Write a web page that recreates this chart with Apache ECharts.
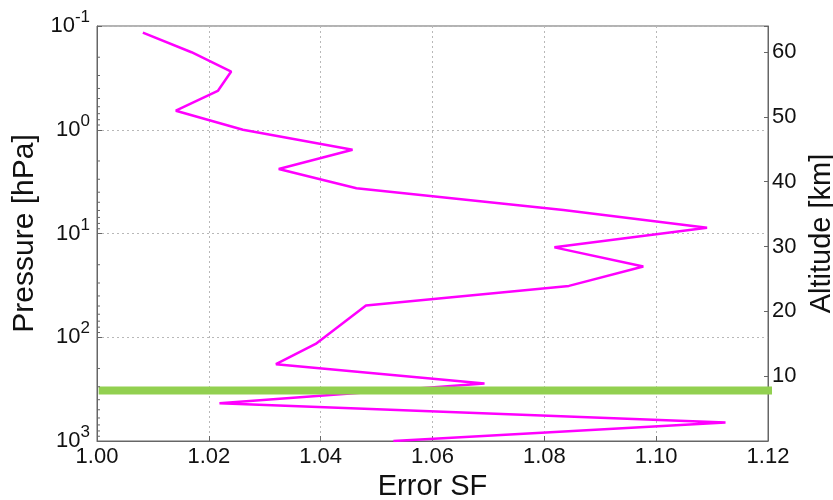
<!DOCTYPE html>
<html>
<head>
<meta charset="utf-8">
<script src="https://cdn.jsdelivr.net/npm/echarts@6/dist/echarts.min.js"></script>
<style>html,body{margin:0;padding:0;background:#fff;}#c{width:833px;height:500px;}</style>
</head>
<body>
<div id="c"></div>
<script>
// ---- data ----
var errorSF = [1.0082, 1.0169, 1.0240, 1.0216, 1.0141, 1.0261, 1.0457, 1.0325, 1.0464, 1.0834, 1.1091,
               1.0818, 1.0977, 1.0844, 1.0481, 1.0391, 1.0320, 1.0693, 1.0219, 1.1124, 1.0530];
var pressure = [0.116, 0.179, 0.275, 0.423, 0.655, 1.00, 1.56, 2.39, 3.66, 5.93, 8.78,
                13.6, 20.8, 32.0, 49.5, 116, 182, 279, 432, 664, 1000];
var levelPressure = 326;            // green reference level [hPa]
var levelExtent = [1.0003, 1.1210]; // Error SF extent of green level line
var xTicks = [1.00, 1.02, 1.04, 1.06, 1.08, 1.10, 1.12];
var altitudeTicks = [10, 20, 30, 40, 50, 60];
var pressureMinorTicks = [];
[-1, 0, 1, 2].forEach(function (k) {
  [2, 3, 4, 5, 6, 7, 8, 9].forEach(function (m) { pressureMinorTicks.push(m * Math.pow(10, k)); });
});

var FONT = 'Liberation Sans, Arial, sans-serif';
var AX = '#666';
var chart = echarts.init(document.getElementById('c'));
chart.setOption({
  animation: false,
  backgroundColor: '#fff',
  grid: { left: 97, right: 65, top: 26, bottom: 59, show: true, borderColor: AX, borderWidth: 1,
          backgroundColor: 'transparent', containLabel: false, outerBoundsMode: 'none' },
  xAxis: {
    type: 'value', min: 1.00, max: 1.12, interval: 0.02,
    name: 'Error SF', nameLocation: 'middle', nameGap: 28,
    nameTextStyle: { fontFamily: FONT, fontSize: 29, color: '#111' },
    axisLine: { lineStyle: { color: AX } },
    axisTick: { inside: true, length: 5, lineStyle: { color: AX } },
    axisLabel: { fontFamily: FONT, fontSize: 22, color: '#111', margin: 5,
      formatter: function (v) { return v.toFixed(2); } },
    splitLine: { show: true, lineStyle: { color: '#b8b8b8', type: [2, 3], width: 1 } }
  },
  yAxis: [{
    type: 'log', logBase: 10, min: 0.1, max: 1000, inverse: true, position: 'left',
    name: 'Pressure [hPa]', nameLocation: 'middle', nameGap: 55,
    nameTextStyle: { fontFamily: FONT, fontSize: 30, color: '#111' },
    axisLine: { lineStyle: { color: AX } },
    axisTick: { inside: true, length: 5, lineStyle: { color: AX } },
    axisLabel: {
      margin: 7,
      formatter: function (v) {
        var e = Math.round(Math.log10(v));
        return '{b|10}{s|' + e + '}';
      },
      rich: {
        b: { fontFamily: FONT, fontSize: 22, color: '#111', lineHeight: 34 },
        s: { fontFamily: FONT, fontSize: 17, color: '#111', lineHeight: 17, verticalAlign: 'top' }
      }
    },
    splitLine: { show: true, lineStyle: { color: '#b8b8b8', type: [2, 3], width: 1 } }
  }, {
    type: 'value', min: 0, max: 64, interval: 10, position: 'right',
    name: 'Altitude [km]', nameLocation: 'middle', nameGap: 35,
    nameTextStyle: { fontFamily: FONT, fontSize: 29, color: '#111' },
    axisLine: { show: true, lineStyle: { color: AX } },
    axisTick: { inside: true, length: 4, lineStyle: { color: AX } },
    axisLabel: { fontFamily: FONT, fontSize: 22, color: '#111', margin: 4,
      formatter: function (v) { return altitudeTicks.indexOf(v) >= 0 ? String(v) : ''; } },
    splitLine: { show: false }
  }],
  series: [{
    type: 'custom', xAxisIndex: 0, yAxisIndex: 0, silent: true, clip: false, z: 5,
    data: pressureMinorTicks.map(function (p) { return [xTicks[0], p]; }),
    renderItem: function (params, api) {
      var pt = api.coord([api.value(0), api.value(1)]);
      return { type: 'line', shape: { x1: pt[0], y1: pt[1], x2: pt[0] + 3, y2: pt[1] },
               style: { stroke: AX, lineWidth: 1 } };
    }
  }, {
    type: 'line', xAxisIndex: 0, yAxisIndex: 0, symbol: 'none', z: 3,
    data: errorSF.map(function (x, i) { return [x, pressure[i]]; }),
    lineStyle: { color: '#ff00ff', width: 2.5 }
  }, {
    type: 'line', xAxisIndex: 0, yAxisIndex: 0, symbol: 'none', clip: false, z: 4,
    data: levelExtent.map(function (x) { return [x, levelPressure]; }),
    lineStyle: { color: '#92d050', width: 8, cap: 'butt' }
  }]
});
</script>
</body>
</html>
